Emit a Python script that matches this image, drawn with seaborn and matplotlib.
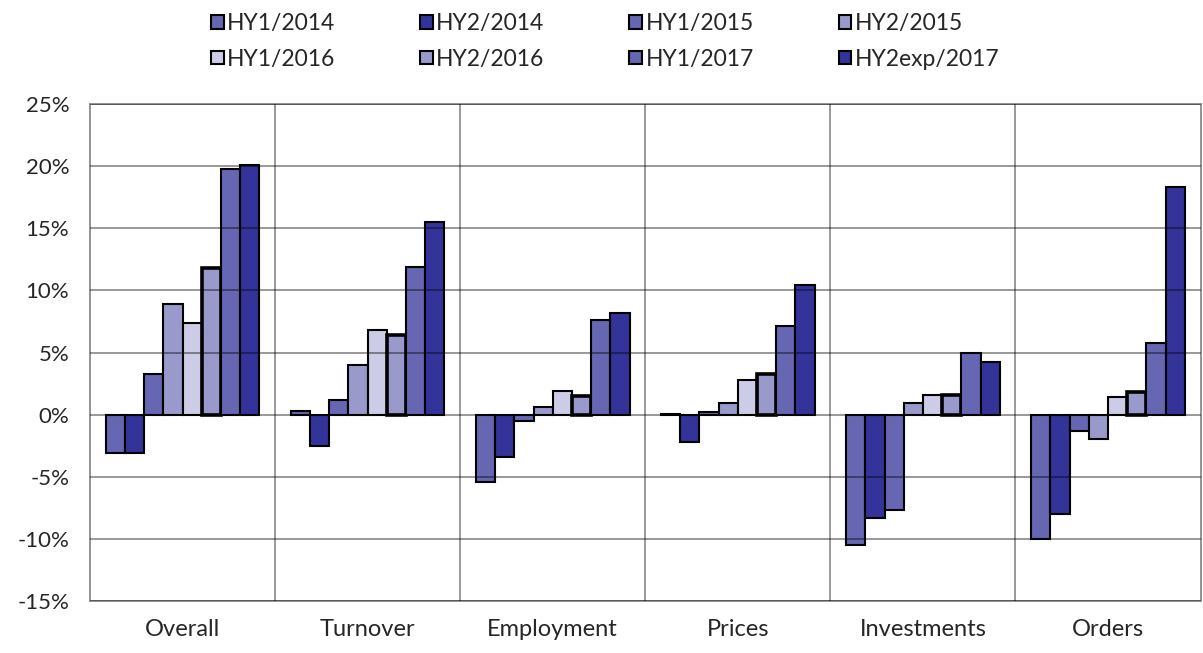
import matplotlib
matplotlib.use("Agg")
import matplotlib.pyplot as plt
import seaborn as sns
import pandas as pd
from matplotlib.ticker import FuncFormatter, FixedLocator

categories = ["Overall", "Turnover", "Employment", "Prices", "Investments", "Orders"]
periods = ["HY1/2014", "HY2/2014", "HY1/2015", "HY2/2015",
           "HY1/2016", "HY2/2016", "HY1/2017", "HY2exp/2017"]

hy1_2014 = [-3.1, 0.3, -5.4, 0.05, -10.5, -10.0]
hy2_2014 = [-3.1, -2.5, -3.4, -2.2, -8.3, -8.0]
hy1_2015 = [3.3, 1.2, -0.5, 0.2, -7.7, -1.3]
hy2_2015 = [8.9, 4.0, 0.6, 0.9, 0.9, -2.0]
hy1_2016 = [7.4, 6.8, 1.9, 2.8, 1.6, 1.4]
hy2_2016 = [11.8, 6.4, 1.5, 3.3, 1.6, 1.8]
hy1_2017 = [19.8, 11.9, 7.6, 7.1, 5.0, 5.8]
hy2exp_2017 = [20.1, 15.5, 8.2, 10.4, 4.2, 18.3]

series = [hy1_2014, hy2_2014, hy1_2015, hy2_2015,
          hy1_2016, hy2_2016, hy1_2017, hy2exp_2017]
colors = ["#6666b3", "#333399", "#6666b3", "#9999cc",
          "#ccccE6", "#9999cc", "#6666b3", "#333399"]

rows = []
for p, vals in zip(periods, series):
    for c, v in zip(categories, vals):
        rows.append({"category": c, "period": p, "value": v})
df = pd.DataFrame(rows)

sns.set_style("white")
plt.rcParams["font.family"] = ["Lato", "DejaVu Sans"]

fig = plt.figure(figsize=(12.03, 6.53), dpi=100)
ax = fig.add_axes([0.0748, 0.0796, 0.9232, 0.7611])

sns.barplot(data=df, x="category", y="value", hue="period", order=categories,
            hue_order=periods, palette=colors, width=0.83, edgecolor="black",
            linewidth=1.5, saturation=1, ax=ax, legend=True)

# HY2/2016 has a heavier outline
for bar in ax.containers[5]:
    bar.set_linewidth(2.6)

grid_c = "#939393"
ax.set_ylim(-15, 25)
ax.set_xlim(-0.5, 5.5)
ax.set_yticks(range(-15, 26, 5))
ax.yaxis.set_major_formatter(FuncFormatter(lambda v, _: f"{int(v)}%"))
ax.xaxis.set_minor_locator(FixedLocator([i + 0.5 for i in range(5)]))
ax.set_axisbelow(False)
ax.grid(axis="y", which="major", color="black", alpha=0.4, linewidth=1.4)
ax.grid(axis="x", which="minor", color="black", alpha=0.4, linewidth=1.4)
ax.tick_params(axis="y", length=7, width=1.4, color=grid_c, labelsize=16, pad=8)
ax.tick_params(axis="x", which="both", length=0, labelsize=17, pad=13)
for s in ax.spines.values():
    s.set_color(grid_c)
    s.set_linewidth(1.4)
ax.set_xlabel("")
ax.set_ylabel("")

handles, labels = ax.get_legend_handles_labels()
ax.get_legend().remove()
order = [0, 4, 1, 5, 2, 6, 3, 7]
leg = fig.legend([handles[i] for i in order], [labels[i] for i in order],
                 ncol=4, loc="upper center", bbox_to_anchor=(0.503, 1.012),
                 frameon=False, fontsize=16.5, handlelength=0.55, handleheight=0.55,
                 handletextpad=0.15, columnspacing=3.7, labelspacing=0.65)

fig.savefig("out.png", dpi=100)
